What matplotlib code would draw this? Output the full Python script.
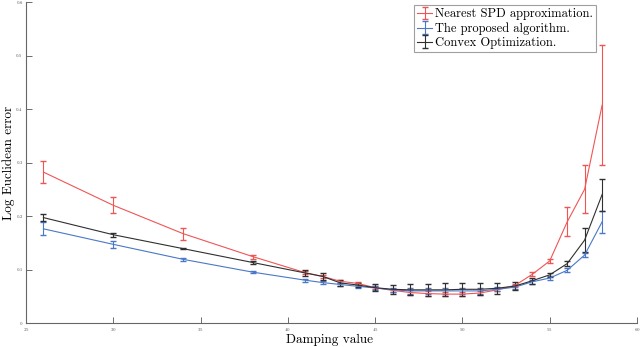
import numpy as np
import matplotlib.pyplot as plt

plt.rcParams['font.family'] = 'serif'
plt.rcParams['font.serif'] = ['cmr10', 'DejaVu Serif']
plt.rcParams['axes.formatter.use_mathtext'] = True

# Damping values
damping = [26, 30, 34, 38, 41, 42, 43, 44, 45, 46, 47, 48, 49, 50, 51, 52, 53, 54, 55, 56, 57, 58]

# Nearest SPD approximation
spd = [0.282, 0.220, 0.167, 0.124, 0.094, 0.087, 0.078, 0.074, 0.066, 0.061, 0.057, 0.055,
       0.054, 0.054, 0.056, 0.062, 0.070, 0.091, 0.116, 0.189, 0.250, 0.407]
spd_err = [0.021, 0.015, 0.011, 0.004, 0.003, 0.003, 0.003, 0.003, 0.003, 0.003, 0.004, 0.004,
           0.004, 0.004, 0.004, 0.003, 0.003, 0.004, 0.003, 0.027, 0.045, 0.112]

# The proposed algorithm
prop = [0.176, 0.147, 0.119, 0.095, 0.080, 0.0755, 0.072, 0.0686, 0.0655, 0.062, 0.060, 0.060,
        0.060, 0.060, 0.060, 0.063, 0.067, 0.077, 0.084, 0.0985, 0.127, 0.189]
prop_err = [0.012, 0.006, 0.003, 0.002, 0.003, 0.003, 0.003, 0.003, 0.003, 0.004, 0.005, 0.005,
            0.005, 0.005, 0.005, 0.004, 0.004, 0.004, 0.003, 0.004, 0.003, 0.021]

# Convex Optimization
conv = [0.197, 0.165, 0.139, 0.113, 0.0935, 0.087, 0.075, 0.071, 0.066, 0.063, 0.062, 0.062,
        0.062, 0.063, 0.063, 0.065, 0.069, 0.079, 0.090, 0.111, 0.155, 0.240]
conv_err = [0.007, 0.004, 0.001, 0.003, 0.006, 0.007, 0.005, 0.004, 0.006, 0.008, 0.010, 0.011,
            0.012, 0.012, 0.011, 0.010, 0.008, 0.006, 0.004, 0.005, 0.022, 0.030]

fig = plt.figure(figsize=(6.4, 3.47), dpi=100)
ax = fig.add_axes([26/640, 24/347, 611/640, 321/347])

ax.errorbar(damping, spd, yerr=spd_err, color='#f05555', lw=0.8, elinewidth=0.8, capsize=2,
            label='Nearest SPD approximation.')
ax.errorbar(damping, prop, yerr=prop_err, color='#4a78c8', lw=0.8, elinewidth=0.8, capsize=2,
            label='The proposed algorithm.')
ax.errorbar(damping, conv, yerr=conv_err, color='#303030', lw=0.8, elinewidth=0.8, capsize=2,
            label='Convex Optimization.')

ax.set_xlim(25, 60)
ax.set_ylim(0, 0.6)
ax.set_xticks([25, 30, 35, 40, 45, 50, 55, 60])
ax.set_yticks([0, 0.1, 0.2, 0.3, 0.4, 0.5, 0.6])
ax.set_yticklabels(['0', '0.1', '0.2', '0.3', '0.4', '0.5', '0.6'])
ax.tick_params(direction='in', labelsize=3.5, colors='#555555', length=4, width=0.6, pad=2.5)
for s in ['top', 'right']:
    ax.spines[s].set_visible(False)
for s in ['left', 'bottom']:
    ax.spines[s].set_color('#666666')
    ax.spines[s].set_linewidth(0.8)

ax.set_xlabel('Damping value', fontsize=9.5)
ax.set_ylabel('Log Euclidean error', fontsize=9.5)
ax.xaxis.set_label_coords(0.4975, -0.034)
ax.yaxis.set_label_coords(-0.018, 0.5)

leg = ax.legend(loc='upper right', bbox_to_anchor=(0.933, 0.99), fontsize=9, frameon=True,
                fancybox=False, edgecolor='#888888', handlelength=1.2, handletextpad=0.2,
                borderpad=0.25, labelspacing=0.15, borderaxespad=0)
leg.get_frame().set_linewidth(0.8)

plt.savefig('out.png', dpi=100)
